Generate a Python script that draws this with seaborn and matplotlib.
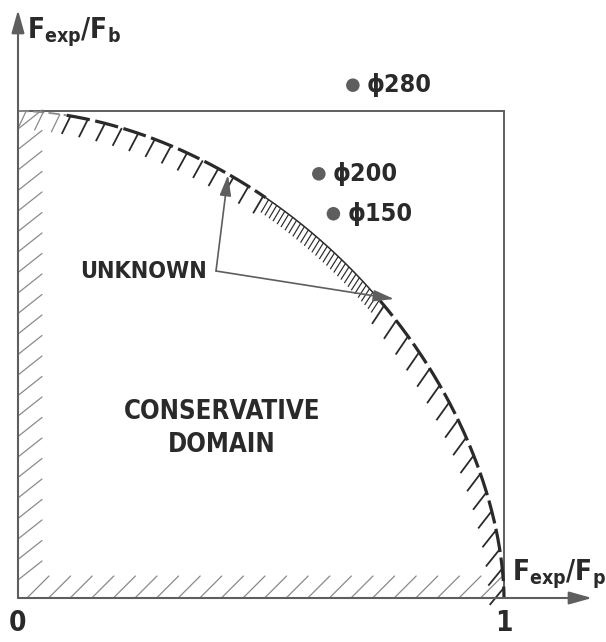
import numpy as np
import pandas as pd
import matplotlib
matplotlib.use("Agg")
import matplotlib.pyplot as plt
import seaborn as sns

# Test results: explosion force relative to bending and punching capacity
specimens = ["ϕ280", "ϕ200", "ϕ150"]
fexp_fp = [0.689, 0.619, 0.649]
fexp_fb = [1.053, 0.871, 0.789]

# Interaction boundary  (F/Fp)^a + (F/Fb)^a = 1
interaction_exponent = 1.8

tick_values = [0, 1]
tick_labels = ["0", "1"]

sns.set_style("white")
plt.rcParams["font.family"] = ["DejaVu Sans"]
plt.rcParams["lines.scale_dashes"] = False
plt.rcParams["mathtext.fontset"] = "custom"
plt.rcParams["mathtext.bf"] = "DejaVu Sans:weight=bold:stretch=condensed"
plt.rcParams["mathtext.rm"] = "DejaVu Sans:stretch=condensed"

W, H, DPI = 606, 642, 100
fig = plt.figure(figsize=(W / DPI, H / DPI), dpi=DPI)
ax = fig.add_axes([0, 0, 1, 1])

# pixel layout of the unit square
X0, Y0 = 18, 598          # origin
SX, SY = 486, 487         # pixels per unit
ax.set_xlim(-X0 / SX, (W - X0) / SX)
ax.set_ylim((Y0 - H) / SY, Y0 / SY)
ax.axis("off")

INK = "#2a2a2a"
GREY = "#5e5e5e"
LIGHT = "#8a8a8a"
TEXT_KW = dict(color=INK, fontweight="bold", fontstretch="condensed")

# ---- axes with arrows and unit box ----
arrow_kw = dict(arrowstyle="-|>,head_length=1.0,head_width=0.28", color=GREY,
                lw=1.5, shrinkA=0, shrinkB=0, mutation_scale=14)
ax.annotate("", xy=(0, (Y0 - 10) / SY), xytext=(0, 0), arrowprops=arrow_kw)
ax.annotate("", xy=((592 - X0) / SX, 0), xytext=(0, 0), arrowprops=arrow_kw)
ax.plot([0, 1, 1], [1, 1, 0], color=GREY, lw=1.4, solid_joinstyle="miter")

# ---- hatching along the two axes ----
seg = []
for yp in np.arange(Y0 - 18, 112, -20.5):
    seg.append(((0, (Y0 - yp) / SY), (24 / SX, (Y0 - yp + 19) / SY)))
for xp in np.arange(X0 + 9, 500, 21.6):
    seg.append((((xp - X0) / SX, 0), ((xp - X0 + 22) / SX, 22 / SY)))
for (a, b) in seg:
    ax.plot([a[0], b[0]], [a[1], b[1]], color=LIGHT, lw=0.9)

# ---- interaction boundary ----
p = interaction_exponent
t = np.linspace(0, np.pi / 2, 3000)
cx = np.sin(t) ** (2 / p)
cy = np.cos(t) ** (2 / p)
s = np.concatenate([[0], np.cumsum(np.hypot(np.diff(cx) * SX, np.diff(cy) * SY))])

dense_lo, dense_hi = 0.51, 0.745
light_end = 0.10


def boundary_part(mask, **kw):
    df = pd.DataFrame({"x": cx[mask], "y": cy[mask]})
    sns.lineplot(data=df, x="x", y="y", sort=False, estimator=None, ax=ax, **kw)


boundary_part(cx <= light_end, color=LIGHT, lw=1.3, linestyle=(0, (8, 3)))
boundary_part((cx >= light_end) & (cx <= dense_lo), color=INK, lw=2.3,
              linestyle=(0, (17, 4)))
boundary_part((cx >= dense_lo) & (cx <= dense_hi), color=INK, lw=1.1)
boundary_part(cx >= dense_hi, color=INK, lw=2.3, linestyle=(3, (17, 4)))


def ticks_along(s_a, s_b, step, length, lw, color):
    for sk in np.arange(s_a, s_b, step):
        i = np.searchsorted(s, sk)
        i = min(i, len(s) - 1)
        frac = t[i] / (np.pi / 2)
        ang = np.deg2rad(65 - 15 * frac)
        x1, y1 = cx[i], cy[i]
        x2 = x1 - np.cos(ang) * length / SX
        y2 = y1 - np.sin(ang) * length / SY
        ax.plot([x1, x2], [y1, y2], color=color, lw=lw, solid_capstyle="butt")


s_light = s[np.searchsorted(cx, light_end)]
s_lo = s[np.searchsorted(cx, dense_lo)]
s_hi = s[np.searchsorted(cx, dense_hi)]
ticks_along(8, s_light, 17, 20, 0.9, LIGHT)
ticks_along(s_light + 4, s_lo, 17.5, 20, 1.3, INK)
ticks_along(s_lo + 3, s_hi, 5.0, 15, 0.85, INK)
ticks_along(s_hi + 6, s[-1] - 4, 19.5, 22, 1.3, INK)

# ---- specimen points ----
pts = pd.DataFrame({"specimen": specimens, "fp": fexp_fp, "fb": fexp_fb})
sns.scatterplot(data=pts, x="fp", y="fb", ax=ax, s=95, color=GREY,
                edgecolor="none", legend=False, zorder=5)
for name, xv, yv in zip(specimens, fexp_fp, fexp_fb):
    ax.text(xv + 14 / SX, yv, name, fontsize=18, ha="left", va="center",
            **TEXT_KW)

# ---- annotations ----
ax.text((80 - X0) / SX, (Y0 - 271) / SY, "UNKNOWN", fontsize=16.8,
        ha="left", va="center", **TEXT_KW)
lbl_arrow = dict(arrowstyle="-|>,head_length=0.9,head_width=0.25", color=GREY,
                 lw=1.2, shrinkA=0, shrinkB=0, mutation_scale=14)
src = ((216 - X0) / SX, (Y0 - 271) / SY)
ax.annotate("", xy=((228 - X0) / SX, (Y0 - 175) / SY), xytext=src,
            arrowprops=lbl_arrow)
ax.annotate("", xy=((394 - X0) / SX, (Y0 - 299) / SY), xytext=src,
            arrowprops=lbl_arrow)

ax.text((222 - X0) / SX, (Y0 - 412) / SY, "CONSERVATIVE", fontsize=18.5,
        ha="center", va="center", **TEXT_KW)
ax.text((222 - X0) / SX, (Y0 - 445) / SY, "DOMAIN", fontsize=18.5,
        ha="center", va="center", **TEXT_KW)

# ---- axis titles and tick labels ----
ax.text((27 - X0) / SX, (Y0 - 38) / SY, r"$\mathbf{F_{exp}/F_{b}}$",
        fontsize=20, ha="left", va="baseline", color=INK)
ax.text((512 - X0) / SX, (Y0 - 580) / SY, r"$\mathbf{F_{exp}/F_{p}}$",
        fontsize=20, ha="left", va="baseline", color=INK)
for v, lab in zip(tick_values, tick_labels):
    ax.text(v, (Y0 - 623) / SY, lab, fontsize=20, ha="center", va="center",
            **TEXT_KW)

fig.savefig("out.png", dpi=DPI)
